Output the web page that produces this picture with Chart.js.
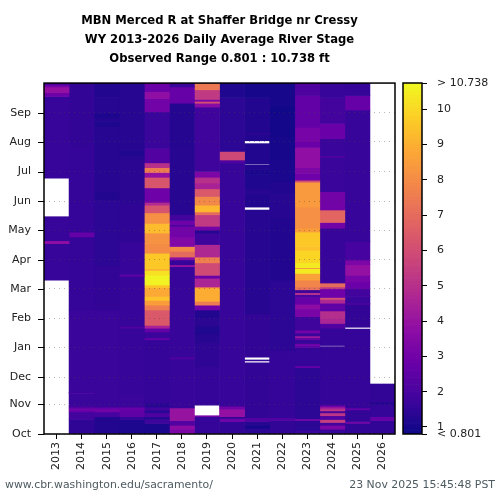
<!DOCTYPE html>
<html>
<head>
<meta charset="utf-8">
<title>MBN Merced R at Shaffer Bridge nr Cressy</title>
<script src="https://cdn.jsdelivr.net/npm/chart.js@4"></script>
<style>
  html, body { margin: 0; padding: 0; background: #fff; }
  #wrap { position: relative; width: 500px; height: 500px; overflow: hidden; }
  #heat { position: absolute; left: 0; top: 0; }
  #bar { position: absolute; left: 395px; top: 0; }
  .foot { position: absolute; top: 478px; font: 10.9px "DejaVu Sans", sans-serif; color: #4d5a60; white-space: nowrap; }
</style>
</head>
<body>
<div id="wrap">
  <canvas id="heat" width="440" height="500"></canvas>
  <canvas id="bar" width="105" height="500"></canvas>
  <div class="foot" style="left:5px">www.cbr.washington.edu/sacramento/</div>
  <div class="foot" style="right:5px">23 Nov 2025 15:45:48 PST</div>
</div>
<script>
const titleLines = [
  "MBN Merced R at Shaffer Bridge nr Cressy",
  "WY 2013-2026 Daily Average River Stage",
  "Observed Range 0.801 : 10.738 ft"
];
const years = ["2013","2014","2015","2016","2017","2018","2019","2020","2021","2022","2023","2024","2025","2026"];
const monthNames = ["Oct","Nov","Dec","Jan","Feb","Mar","Apr","May","Jun","Jul","Aug","Sep"];
const monthDays = [0,31,59,90,120,151,181,212,242,273,304,334];
const stageMin = 0.801;
const stageMax = 10.738;
const stageTicks = [1,2,3,4,5,6,7,8,9,10];

// each entry: [day of water year the stretch starts on, stage in ft], null = no data
const wy2013 = [[0,null],[160,1.6],[198,3.8],[201,1.6],[226,null],[266,1.6],[351,2.9],[355,3.9],[361,3.0],[363,2.1]];
const wy2014 = [[0,1.45],[15,1.85],[23,2.7],[25,3.0],[27,2.2],[29,1.65],[42,2.1],[43,1.65],[129,1.55],[205,2.7],[210,1.55],[300,1.5]];
const wy2015 = [[0,1.2],[18,1.95],[23,3.0],[26,2.7],[28,1.65],[129,1.5],[175,1.4],[244,1.2],[252,1.3],[320,1.1],[325,1.2],[330,1.05],[333,1.3],[350,1.2]];
const wy2016 = [[0,1.1],[15,1.55],[18,2.5],[24,2.7],[28,1.65],[42,1.6],[110,2.2],[112,1.6],[164,2.5],[166,1.6],[200,1.45],[240,1.35],[285,1.3],[290,1.15],[295,1.3]];
const wy2017 = [[0,1.05],[11,1.75],[15,1.3],[18,2.1],[22,1.4],[25,1.85],[28,1.3],[32,1.55],[98,2.7],[100,1.65],[106,2.6],[110,4.5],[113,6.4],[129,7.5],[134,8.5],[139,9.5],[143,8.8],[152,9.5],[155,10.6],[165,10.2],[170,9.1],[172,9.6],[188,8.0],[198,8.2],[209,9.3],[219,8.1],[230,6.2],[238,4.8],[241,2.9],[256,6.3],[267,3.9],[272,7.5],[277,5.0],[282,2.2],[297,1.65],[335,3.0],[349,3.8],[356,2.8]];
const wy2018 = [[0,3.3],[5,3.7],[9,2.2],[14,4.0],[27,1.6],[78,2.2],[80,1.6],[174,4.0],[176,1.55],[181,3.6],[184,7.0],[190,7.9],[195,3.4],[205,3.0],[216,2.1],[218,2.9],[222,1.85],[228,1.3],[300,1.25],[344,2.7],[361,1.65]];
const wy2019 = [[0,1.55],[18,3.0],[19,null],[30,1.55],[70,1.45],[95,1.3],[104,1.15],[112,1.35],[121,1.2],[129,2.9],[134,7.5],[138,8.9],[152,7.5],[153,4.6],[162,2.8],[165,5.9],[178,7.6],[184,4.7],[197,1.75],[209,1.3],[212,3.0],[216,5.3],[228,7.0],[231,9.2],[238,7.9],[247,6.4],[255,4.5],[261,5.0],[267,3.3],[273,1.75],[340,3.6],[344,6.0],[346,3.2],[348,5.3],[358,7.4]];
const wy2020 = [[0,1.5],[13,2.9],[16,1.6],[18,3.9],[26,3.0],[29,1.6],[282,2.1],[285,5.8],[294,1.4],[350,1.15]];
const wy2021 = [[0,1.4],[6,1.0],[9,1.3],[13,2.2],[17,1.5],[74,null],[76,1.5],[77,null],[80,1.5],[125,1.3],[233,null],[236,1.2],[250,1.3],[255,1.15],[270,1.05],[275,1.2],[280,null],[281,1.2],[302,null],[305,1.2],[312,1.65],[313,1.2],[330,1.2],[350,1.0]];
const wy2022 = [[0,1.5],[14,2.2],[17,1.55],[87,1.4],[160,1.2],[180,1.2],[225,1.3],[250,1.2],[262,1.05],[285,1.0],[310,0.95],[335,0.85],[340,1.0]];
const wy2023 = [[0,1.65],[4,1.4],[14,3.0],[16,1.4],[69,2.6],[71,1.55],[90,2.5],[92,2.9],[94,1.6],[98,2.5],[100,4.2],[102,1.65],[105,3.0],[108,1.75],[122,3.2],[130,3.7],[135,2.7],[142,2.1],[145,5.0],[147,1.75],[150,7.2],[153,7.8],[160,8.6],[167,10.4],[172,8.3],[173,10.4],[178,9.9],[191,9.4],[195,9.6],[210,8.5],[214,8.1],[236,8.4],[262,6.0],[264,2.9],[271,3.3],[277,3.8],[298,2.8],[304,3.1],[319,2.6],[352,2.1]];
const wy2024 = [[0,1.65],[5,3.3],[9,1.85],[12,5.5],[15,2.2],[19,5.2],[22,1.95],[24,5.2],[26,4.4],[28,3.0],[30,1.55],[91,null],[92,1.55],[110,2.2],[115,4.6],[120,4.9],[128,2.5],[136,4.7],[140,6.0],[142,2.9],[151,5.3],[153,7.0],[157,1.75],[160,1.6],[214,3.0],[220,6.8],[233,3.0],[252,1.65],[288,2.6],[289,1.65],[307,2.8],[323,1.85],[350,1.6]];
const wy2025 = [[0,1.5],[11,3.0],[13,1.5],[25,2.6],[27,1.55],[109,null],[111,1.5],[135,2.5],[136,1.65],[143,1.85],[151,2.8],[158,3.1],[165,3.9],[176,3.3],[181,1.95],[200,1.6],[337,2.7],[352,1.55]];
const wy2026 = [[0,1.5],[14,2.7],[18,1.55],[31,1.2],[33,1.5],[52,null]];
const seasons = [wy2013,wy2014,wy2015,wy2016,wy2017,wy2018,wy2019,wy2020,wy2021,wy2022,wy2023,wy2024,wy2025,wy2026];

const plasma = ["#0d0887","#41049d","#6a00a8","#8f0da4","#b12a90","#cc4778","#e16462","#f2844b","#fca636","#fcce25","#f0f921"];

function stageColor(v) {
  const t = Math.min(1, Math.max(0, (v - stageMin) / (stageMax - stageMin))) * (plasma.length - 1);
  const i = Math.min(plasma.length - 2, Math.floor(t));
  const a = parseInt(plasma[i].slice(1), 16);
  const b = parseInt(plasma[i + 1].slice(1), 16);
  const mix = (shift) => {
    const x = (a >> shift) & 255;
    const y = (b >> shift) & 255;
    return Math.round(x + (y - x) * (t - i));
  };
  return `rgb(${mix(16)},${mix(8)},${mix(0)})`;
}

const font = { family: "'DejaVu Sans', sans-serif", size: 11 };

// box round the plot, and the month ticks (kept solid, the grid lines are dotted)
const frame = {
  id: "frame",
  afterDraw(chart) {
    const { ctx, chartArea: a } = chart;
    ctx.save();
    ctx.strokeStyle = "#000";
    ctx.lineWidth = 1.5;
    ctx.strokeRect(a.left, a.top, a.right - a.left, a.bottom - a.top);
    if (chart.canvas.id === "heat") {
      ctx.lineWidth = 1;
      monthDays.forEach((d) => {
        const y = Math.round(chart.scales.y.getPixelForValue(d)) + 0.5;
        ctx.beginPath();
        ctx.moveTo(a.left - 6, y);
        ctx.lineTo(a.left, y);
        ctx.stroke();
      });
    }
    ctx.restore();
  }
};

const heatDatasets = seasons.map((rows, col) => {
  const stretches = rows
    .map((row, i) => ({ start: row[0], end: i + 1 < rows.length ? rows[i + 1][0] : 365, stage: row[1] }))
    .filter((r) => r.stage !== null);
  return {
    label: years[col],
    data: stretches.map((r) => ({ x: years[col], y: [r.start, r.end] })),
    backgroundColor: stretches.map((r) => stageColor(r.stage)),
    borderWidth: 0,
    barPercentage: 1,
    categoryPercentage: 1,
    grouped: false
  };
});

new Chart(document.getElementById("heat"), {
  type: "bar",
  data: { labels: years, datasets: heatDatasets },
  plugins: [frame],
  options: {
    responsive: false,
    animation: false,
    layout: { padding: { right: 45 } },
    plugins: {
      legend: { display: false },
      tooltip: { enabled: false },
      title: {
        display: true,
        fullSize: false,
        text: titleLines,
        color: "#000",
        font: { family: "'DejaVu Sans', sans-serif", size: 11.6, weight: "bold", lineHeight: 1.64 },
        padding: { top: 11, bottom: 15 }
      }
    },
    scales: {
      x: {
        type: "category",
        offset: true,
        afterFit(scale) { scale.height = 66; },
        grid: { drawOnChartArea: false, tickColor: "#000", tickLength: 5, offset: false },
        border: { display: false },
        ticks: { font, color: "#222", minRotation: 90, maxRotation: 90, autoSkip: false, padding: 3 }
      },
      y: {
        type: "linear",
        min: 0,
        max: 365,
        afterFit(scale) { scale.width = 44; },
        afterBuildTicks(scale) { scale.ticks = monthDays.map((d) => ({ value: d })); },
        grid: { color: "rgba(70,70,70,0.4)", drawTicks: false, z: 1 },
        border: { display: false, dash: [1, 4] },
        ticks: {
          font,
          color: "#222",
          padding: 13,
          autoSkip: false,
          callback(value) { return monthNames[monthDays.indexOf(value)]; }
        }
      }
    }
  }
});

// colour bar: 0.1 ft steps of the same colour ramp
const rampRows = [];
for (let v = stageMin; v < stageMax; v += 0.1) rampRows.push(v);

new Chart(document.getElementById("bar"), {
  type: "bar",
  data: {
    labels: ["ramp"],
    datasets: rampRows.map((v) => ({
      data: [[v, Math.min(stageMax, v + 0.1)]],
      backgroundColor: stageColor(v + 0.05),
      borderWidth: 0,
      barPercentage: 1,
      categoryPercentage: 1,
      grouped: false
    }))
  },
  plugins: [frame],
  options: {
    responsive: false,
    animation: false,
    layout: { padding: { left: 8, top: 83, bottom: 66 } },
    plugins: { legend: { display: false }, tooltip: { enabled: false }, title: { display: false } },
    scales: {
      x: { display: false },
      y: {
        type: "linear",
        position: "right",
        min: stageMin,
        max: stageMax,
        afterFit(scale) { scale.width = 78; },
        afterBuildTicks(scale) {
          scale.ticks = [stageMin, ...stageTicks, stageMax].map((value) => ({ value }));
        },
        grid: { drawOnChartArea: false, tickColor: "#000", tickLength: 5 },
        border: { display: false },
        ticks: {
          font,
          color: "#222",
          padding: 10,
          autoSkip: false,
          callback(value) {
            if (value === stageMin) return "< " + stageMin;
            if (value === stageMax) return "> " + stageMax;
            return String(value);
          }
        }
      }
    }
  }
});
</script>
</body>
</html>
